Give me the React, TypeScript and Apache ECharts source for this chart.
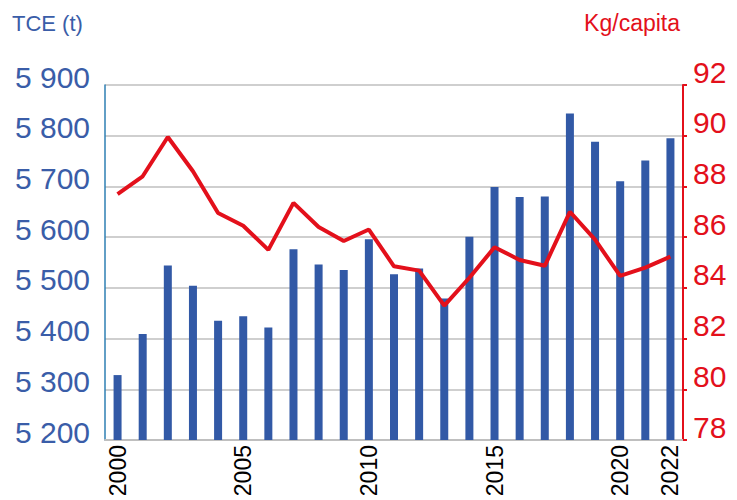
import React, { useEffect, useRef } from "react";
import * as echarts from "echarts";

const years = [
  "2000", "2001", "2002", "2003", "2004", "2005", "2006", "2007", "2008", "2009", "2010", "2011",
  "2012", "2013", "2014", "2015", "2016", "2017", "2018", "2019", "2020", "2021", "2022",
];
const tceValues = [
  5328, 5409, 5544, 5504, 5435, 5444, 5422, 5576, 5546, 5535, 5596, 5527,
  5538, 5479, 5601, 5699, 5679, 5680, 5844, 5788, 5710, 5751, 5795,
];
const kgPerCapita = [
  87.7, 88.4, 89.95, 88.6, 86.95, 86.45, 85.5, 87.35, 86.4, 85.85, 86.3, 84.85,
  84.68, 83.3, 84.4, 85.6, 85.1, 84.87, 87.0, 85.9, 84.47, 84.8, 85.23,
];
const shownYearIndices = [0, 5, 10, 15, 20, 22];
const leftTitle = "TCE (t)";
const rightTitle = "Kg/capita";

const BLUE = "#3259A6";
const RED = "#E3101B";
const FONT = "'Liberation Sans', Arial, sans-serif";

export default function App() {
  const ref = useRef<HTMLDivElement>(null);
  useEffect(() => {
    if (!ref.current) return;
    const chart = echarts.init(ref.current, null, { renderer: "svg" });
    chart.setOption({
      animation: false,
      backgroundColor: "#ffffff",
      textStyle: { fontFamily: FONT },
      graphic: [
        {
          type: "text",
          left: 12,
          top: 12,
          style: { text: leftTitle, fill: "#3A5DA8", font: `22px ${FONT}` },
        },
        {
          type: "text",
          right: 57,
          top: 11,
          style: { text: rightTitle, fill: RED, font: `23px ${FONT}` },
        },
      ],
      grid: { left: 105, right: 54, top: 85, bottom: 60, containLabel: false },
      xAxis: {
        type: "category",
        data: years,
        boundaryGap: true,
        axisLine: { show: true, lineStyle: { color: "#BFBFBF", width: 2 } },
        axisTick: { show: false },
        axisLabel: {
          interval: (index: number) => shownYearIndices.includes(index),
          rotate: 90,
          color: "#000000",
          fontSize: 23,
          margin: 5,
          fontFamily: FONT,
        },
        splitLine: { show: false },
      },
      yAxis: [
        {
          type: "value",
          min: 5200,
          max: 5900,
          interval: 100,
          position: "left",
          axisLine: { show: true, lineStyle: { color: "#2E7FB3", width: 1.5 } },
          axisTick: { show: false },
          axisLabel: {
            color: "#3A5DA8",
            fontSize: 30,
            margin: 15,
            verticalAlign: "bottom",
            lineHeight: 16,
            fontFamily: FONT,
            formatter: (v: number) => {
              const s = String(Math.round(v));
              return s.slice(0, s.length - 3) + " " + s.slice(-3);
            },
          },
          splitLine: { show: true, lineStyle: { color: "#BFBFBF", width: 1.5 } },
        },
        {
          type: "value",
          min: 78,
          max: 92,
          interval: 2,
          position: "right",
          axisLine: { show: true, lineStyle: { color: RED, width: 2 } },
          axisTick: { show: true, length: 4, lineStyle: { color: RED, width: 2 } },
          axisLabel: {
            color: RED,
            fontSize: 30,
            margin: 10,
            verticalAlign: "bottom",
            lineHeight: 26,
            fontFamily: FONT,
          },
          splitLine: { show: false },
        },
      ],
      series: [
        {
          name: leftTitle,
          type: "bar",
          data: tceValues,
          yAxisIndex: 0,
          barWidth: 8,
          itemStyle: { color: BLUE },
        },
        {
          name: rightTitle,
          type: "line",
          data: kgPerCapita,
          yAxisIndex: 1,
          symbol: "none",
          lineStyle: { color: RED, width: 4 },
          z: 5,
        },
      ],
    });
    return () => chart.dispose();
  }, []);
  return (
    <div
      ref={ref}
      style={{ position: "fixed", left: 0, top: 0, width: 737, height: 500 }}
    />
  );
}
